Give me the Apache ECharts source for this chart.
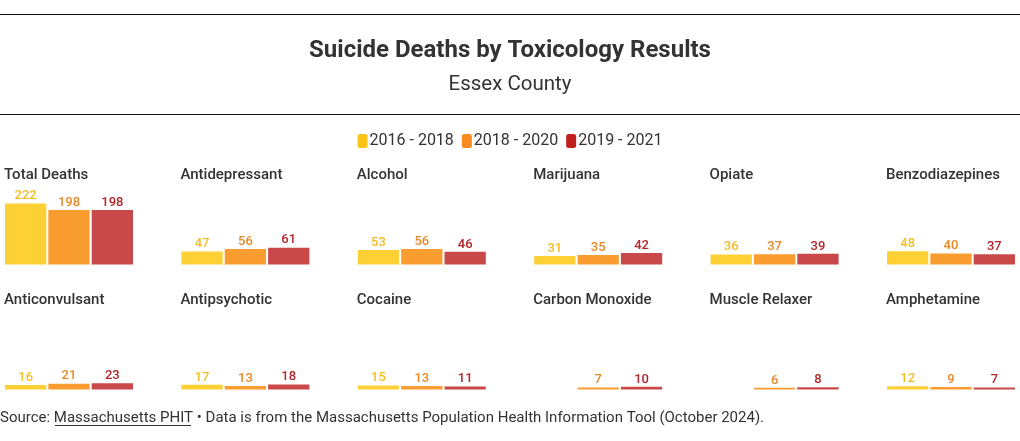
<!DOCTYPE html>
<html><head><meta charset="utf-8">
<script src="https://cdn.jsdelivr.net/npm/echarts@6/dist/echarts.min.js"></script>
<style>html,body{margin:0;padding:0;background:#fff}#c{width:1020px;height:441px}</style>
</head><body><div id="c"></div>
<script>
const categories = ["Total Deaths","Antidepressant","Alcohol","Marijuana","Opiate","Benzodiazepines",
  "Anticonvulsant","Antipsychotic","Cocaine","Carbon Monoxide","Muscle Relaxer","Amphetamine"];
const periods = ["2016 - 2018","2018 - 2020","2019 - 2021"];
const v2016_2018 = [222,47,53,31,36,48,16,17,15,null,null,12];
const v2018_2020 = [198,56,56,35,37,40,21,13,13,7,6,9];
const v2019_2021 = [198,61,46,42,39,37,23,18,11,10,8,7];
const values = [v2016_2018, v2018_2020, v2019_2021];

const barColors = ["#FDD036","#FA9D31","#C9494B"];
const legendColors = ["#FCC419","#F98B1E","#C1201F"];
const labelColors = ["#F2BE25","#E8892A","#B3262B"];
const FONT = "Roboto";

const colX0 = 5, colStep = 176.4, gridW = 128, gridH = 66;
const baselines = [264.5, 389.5];
const yMax = 240;

const grids=[], xAxes=[], yAxes=[], series=[], titles=[];
titles.push({text:"Suicide Deaths by Toxicology Results", left:"center", top:39, padding:0,
  textStyle:{fontFamily:FONT,fontSize:24,fontWeight:"bold",color:"#333"}});
titles.push({text:"Essex County", left:"center", top:74, padding:0,
  textStyle:{fontFamily:FONT,fontSize:20.5,fontWeight:"normal",color:"#333"}});

categories.forEach((cat,i)=>{
  const r = Math.floor(i/6), c = i%6;
  const left = colX0 + c*colStep;
  const top = baselines[r]-gridH;
  grids.push({left:left, top:top, width:gridW, height:gridH});
  xAxes.push({type:"category", gridIndex:i, data:[cat], show:false});
  yAxes.push({type:"value", gridIndex:i, min:0, max:yMax, show:false});
  titles.push({text:cat, left:left-1, top:r===0?168:293, padding:0,
    textStyle:{fontFamily:FONT,fontSize:15,fontWeight:500,color:"#333"}});
  periods.forEach((p,k)=>{
    const v = values[k][i];
    series.push({type:"bar", name:p, xAxisIndex:i, yAxisIndex:i,
      data:[v==null?'-':v], barGap:"5%", barCategoryGap:"0%",
      itemStyle:{color:barColors[k]}, animation:false,
      label:{show:true, position:"top", distance:1, color:labelColors[k],
        fontFamily:FONT, fontSize:13, fontWeight:500}});
  });
});

titles.push({text:"Source: {u|Massachusetts PHIT} • Data is from the Massachusetts Population Health Information Tool (October 2024).",
  left:0, top:411, padding:0,
  textStyle:{fontFamily:FONT,fontSize:15,fontWeight:"normal",color:"#333",
    rich:{u:{fontFamily:FONT,fontSize:15,color:"#333"}}}});

const chart = echarts.init(document.getElementById("c"), null, {renderer:"canvas"});
chart.setOption({
  animation:false,
  title:titles,
  legend:{data:periods.map((p,k)=>({name:p, itemStyle:{color:legendColors[k]}})),
    top:128, left:"center", icon:"roundRect", itemWidth:10, itemHeight:14, itemGap:8,
    textStyle:{fontFamily:FONT,fontSize:16,color:"#333",padding:[0,0,0,-3]}, selectedMode:false},
  grid:grids, xAxis:xAxes, yAxis:yAxes, series:series,
  graphic:[
    {type:"line", shape:{x1:0,y1:14.5,x2:1020,y2:14.5}, style:{stroke:"#111",lineWidth:1}},
    {type:"line", shape:{x1:0,y1:114.5,x2:1020,y2:114.5}, style:{stroke:"#111",lineWidth:1}},
    {type:"line", shape:{x1:55,y1:425.5,x2:191,y2:425.5}, style:{stroke:"#333",lineWidth:1}}
  ]
});
</script></body></html>
